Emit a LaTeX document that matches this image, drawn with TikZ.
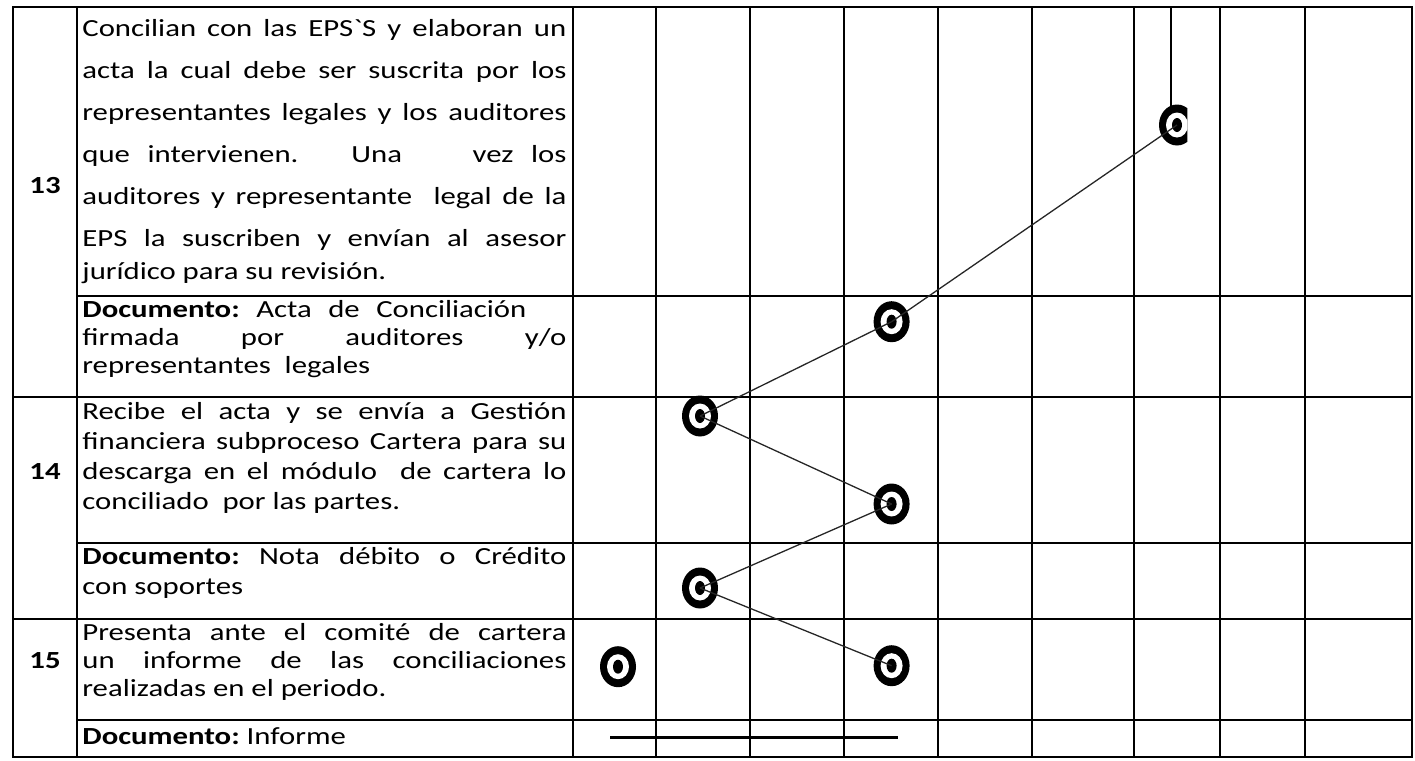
\documentclass[tikz,border=0pt]{standalone}
\usepackage{fontspec}
\setmainfont{Carlito}[Ligatures=TeXOff, FakeStretch=1.25]
\usetikzlibrary{shapes.geometric}
\newcommand\J[1]{\makebox[242pt][s]{#1}}
\newcommand\G[1]{\hspace{0pt plus #1fil}}
\tikzset{
  grid/.style={line width=1pt, black},
  txt/.style={inner sep=0pt, anchor=base west, font=\fontsize{12.3pt}{15pt}\selectfont\frenchspacing},
  num/.style={inner sep=0pt, anchor=base, font=\fontsize{12.3pt}{15pt}\selectfont\bfseries},
  target/.style={ellipse, fill=black, inner sep=0pt, minimum width=18pt, minimum height=20.5pt,
    path picture={\fill[white] (path picture bounding box.center) ellipse [x radius=5.5pt, y radius=6.25pt];
                  \fill[black] (path picture bounding box.center) ellipse [x radius=2.5pt, y radius=3.5pt];}},
  link/.style={line width=0.65pt, black!85},
  stemline/.style={line width=1pt, black},
  inforule/.style={line width=1.2pt, black},
}
\begin{document}
\begin{tikzpicture}[x=0.5pt,y=-0.5pt]
\useasboundingbox (0,0) rectangle (1415,761);
% grid
\foreach \x in {77,573,656,750,844,938,1032,1134,1220,1305}
  \draw[grid] (\x,7) -- (\x,757);
\foreach \y in {397,619}
  \draw[grid] (13,\y) -- (1412,\y);
\foreach \y in {296,543,720}
  \draw[grid] (77,\y) -- (1412,\y);
\draw[grid] (13,7) rectangle (1412,757);
% numbers
\node[num] (n13) at (45,193) {13};
\node[num] (n14) at (45,479.5) {14};
\node[num] (n15) at (45,668.5) {15};
% row 13
\node[txt] (t1) at (82,36) {\J{Concilian con las EPS`S y elaboran un}};
\node[txt] (t2) at (82,78) {\J{acta la cual debe ser suscrita por los}};
\node[txt] (t3) at (82,120) {\J{representantes legales y los auditores}};
\node[txt] (t4) at (82,162) {\J{que\G{1}intervienen.\G{3}Una\G{4}vez\G{1}los}};
\node[txt] (t5) at (82,204) {\J{auditores y representante\ \ legal de la}};
\node[txt] (t6) at (82,246) {\J{EPS la suscriben y envían al asesor}};
\node[txt] (t7) at (82,279) {jurídico para su revisión.};
% documento 13
\node[txt] (t8) at (82,317) {\makebox[222pt][s]{\textbf{Documento:} Acta de Conciliación}};
\node[txt] (t9) at (82,345) {\J{firmada por auditores y/o}};
\node[txt] (t10) at (82,373) {representantes\ \ legales};
% row 14
\node[txt] (t11) at (82,419.5) {\J{Recibe el acta y se envía a Gestión}};
\node[txt] (t12) at (82,449.5) {\J{financiera subproceso Cartera para su}};
\node[txt] (t13) at (82,479.5) {\J{descarga en el módulo\ \ de cartera lo}};
\node[txt] (t14) at (82,509.5) {conciliado\ \ por las partes.};
% documento 14
\node[txt] (t15) at (82,564.5) {\J{\textbf{Documento:} Nota débito o Crédito}};
\node[txt] (t16) at (82,594.5) {con soportes};
% row 15
\node[txt] (t17) at (82,640.5) {\J{Presenta ante el comité de cartera}};
\node[txt] (t18) at (82,668.5) {\J{un informe de las conciliaciones}};
\node[txt] (t19) at (82,696.5) {realizadas en el periodo.};
% documento 15
\node[txt] (t20) at (82,744.5) {\textbf{Documento:} Informe};
% stem
\coordinate (stemtop) at (1170.7,7);
\coordinate (stemend) at (1170.7,115);
\draw[stemline] (stemtop) -- (stemend);
% targets
\begin{scope}
  \clip (1100,90) rectangle (1187.3,170);
  \node[target] (c1) at (1177,125) {};
\end{scope}
\node[target] (c2) at (891.6,321.7) {};
\node[target] (c3) at (700,416) {};
\node[target] (c4) at (891.6,504) {};
\node[target] (c5) at (700,588) {};
\node[target] (c6) at (891.6,665.7) {};
\node[target] (c7) at (618,666.7) {};
% connectors
\draw[link] (c1.center) -- (c2.center);
\draw[link] (c2.center) -- (c3.center);
\draw[link] (c3.center) -- (c4.center);
\draw[link] (c4.center) -- (c5.center);
\draw[link] (c5.center) -- (c6.center);
% bottom rule
\coordinate (infA) at (610,737.5);
\coordinate (infB) at (898,737.5);
\draw[inforule] (infA) -- (infB);
\end{tikzpicture}
\end{document}
